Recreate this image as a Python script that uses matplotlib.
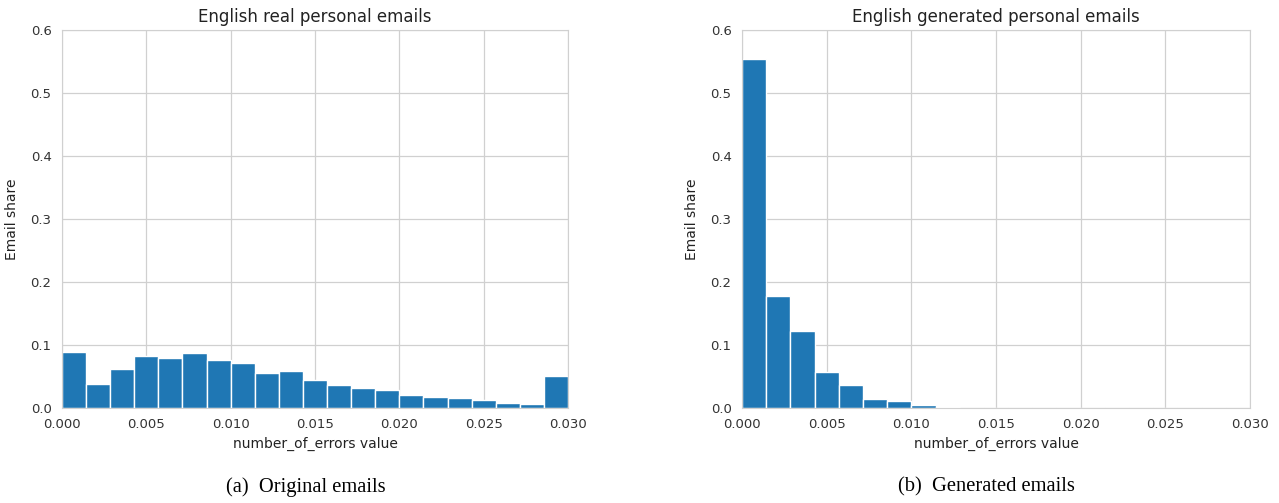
import numpy as np
import matplotlib.pyplot as plt
import seaborn as sns

# share of emails per number_of_errors bin (21 equal bins over 0..0.03)
real_share = [0.089, 0.038, 0.062, 0.082, 0.079, 0.087, 0.076, 0.071, 0.056, 0.059,
              0.044, 0.036, 0.031, 0.028, 0.020, 0.018, 0.016, 0.013, 0.008, 0.0065,
              0.051]
generated_share = [0.554, 0.178, 0.122, 0.057, 0.037, 0.0145, 0.0117, 0.005, 0.0016, 0.0006,
                   0.0003, 0.0002, 0.0001, 0.0, 0.0, 0.0, 0.0, 0.0, 0.0, 0.0,
                   0.0]
titles = ["English real personal emails", "English generated personal emails"]
captions = ["(a)  Original emails", "(b)  Generated emails"]
x_ticks = [0.0, 0.005, 0.010, 0.015, 0.020, 0.025, 0.030]
y_ticks = [0.0, 0.1, 0.2, 0.3, 0.4, 0.5, 0.6]

sns.set_style("whitegrid")
plt.rcParams['font.family'] = ['DejaVu Sans']

fig = plt.figure(figsize=(12.79, 5.03), dpi=100)
W, H = 1279, 503
axes_px = [(62, 568), (742, 1250)]
caption_x = [306, 986]
top, bottom = 30, 408

edges = np.linspace(0, 0.03, len(real_share) + 1)
for (x0, x1), cx, share, title, cap in zip(axes_px, caption_x,
                                          [real_share, generated_share], titles, captions):
    ax = fig.add_axes([x0 / W, 1 - bottom / H, (x1 - x0) / W, (bottom - top) / H])
    ax.bar(edges[:-1], share, width=np.diff(edges), align='edge',
           color='#1f77b4', edgecolor='white', linewidth=1.0)
    ax.set_xlim(0, 0.03)
    ax.set_ylim(0, 0.6)
    ax.set_xticks(x_ticks)
    ax.set_xticklabels([f"{t:.3f}" for t in x_ticks])
    ax.set_yticks(y_ticks)
    ax.set_yticklabels([f"{t:.1f}" for t in y_ticks])
    ax.tick_params(labelsize=9.5, colors='#333333', pad=4)
    for s in ax.spines.values():
        s.set_color('#d0d0d0')
    ax.grid(color='#d0d0d0', linewidth=0.9)
    ax.set_axisbelow(True)
    ax.set_title(title, fontsize=12, color='#222222', pad=6)
    ax.set_xlabel("number_of_errors value", fontsize=10, color='#222222', labelpad=4)
    ax.set_ylabel("Email share", fontsize=10, color='#222222', labelpad=8)
    # subfigure caption under each panel
    fig.text(cx / W, 1 - 487 / H, cap, ha='center', va='center',
             fontsize=14.8, family='Liberation Serif', color='black')

fig.savefig("out.png", dpi=100)
